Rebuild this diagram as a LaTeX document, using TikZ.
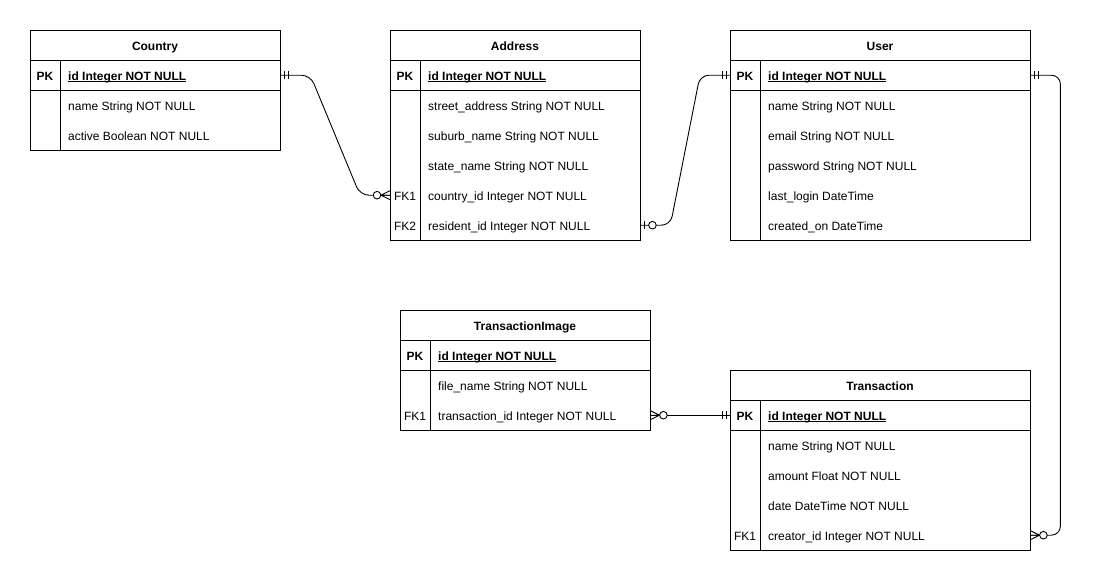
\documentclass[tikz,border=0pt]{standalone}
\usepackage{fontspec}
\setmainfont{Liberation Sans}
\newcommand\erul[1]{\setbox0\hbox{#1}\rlap{\rule[-1.7pt]{\wd0}{0.8pt}}\box0}
\tikzset{
  tblbox/.style={draw, line width=1pt, inner sep=0pt, anchor=north west},
  tblline/.style={line width=1pt},
  rowbox/.style={inner sep=0pt, anchor=north west, minimum height=30pt},
  txt/.style={inner sep=0pt, font=\fontsize{12}{14}\selectfont, text height=10pt, text depth=1.4pt, yshift=-0.8pt},
  title/.style={txt, font=\fontsize{12}{14}\selectfont\bfseries},
  keytxt/.style={txt, anchor=center},
  fieldtxt/.style={txt, anchor=west},
  conn/.style={line width=0.9pt, rounded corners=9pt},
  mandone/.pic={\draw[line width=0.9pt] (4,-4)--(4,4) (8,-4)--(8,4);},
  zeroone/.pic={\draw[line width=0.9pt] (4,-4)--(4,4); \draw[line width=0.9pt, fill=white] (12,0) circle (3.8);},
  zeromany/.pic={\draw[line width=0.9pt] (0,-4.5)--(9,0)--(0,4.5) (0,0)--(9,0); \draw[line width=0.9pt, fill=white] (13,0) circle (3.8);}
}
% #1 table, #2 index, #3 x, #4 y, #5 width, #6 key, #7 text
\newcommand\erow[7]{%
  \node[rowbox, minimum width=#5] (#1-#2) at (#3,#4) {};
  \node[keytxt] (#1-#2-k) at ([xshift=15pt]#1-#2.west) {#6};
  \node[fieldtxt] (#1-#2-f) at ([xshift=38pt]#1-#2.west) {#7};
}
\begin{document}
\begin{tikzpicture}[x=1pt, y=-1pt]
\useasboundingbox[fill=white] (0,0) rectangle (1100,581);

% Country
\node[tblbox, minimum width=250pt, minimum height=120pt] (country) at (30,30) {};
\node[title] (country-t) at (155,45) {Country};
\draw[tblline] (30,60) -- (280,60) (30,90) -- (280,90) (60,60) -- (60,150);
\erow{country}{1}{30}{60}{250pt}{\bfseries PK}{\bfseries\erul{id Integer NOT NULL}}
\erow{country}{2}{30}{90}{250pt}{}{name String NOT NULL}
\erow{country}{3}{30}{120}{250pt}{}{active Boolean NOT NULL}

% Address
\node[tblbox, minimum width=250pt, minimum height=210pt] (address) at (390,30) {};
\node[title] (address-t) at (515,45) {Address};
\draw[tblline] (390,60) -- (640,60) (390,90) -- (640,90) (420,60) -- (420,240);
\erow{address}{1}{390}{60}{250pt}{\bfseries PK}{\bfseries\erul{id Integer NOT NULL}}
\erow{address}{2}{390}{90}{250pt}{}{street\_address String NOT NULL}
\erow{address}{3}{390}{120}{250pt}{}{suburb\_name String NOT NULL}
\erow{address}{4}{390}{150}{250pt}{}{state\_name String NOT NULL}
\erow{address}{5}{390}{180}{250pt}{FK1}{country\_id Integer NOT NULL}
\erow{address}{6}{390}{210}{250pt}{FK2}{resident\_id Integer NOT NULL}

% User
\node[tblbox, minimum width=300pt, minimum height=210pt] (user) at (730,30) {};
\node[title] (user-t) at (880,45) {User};
\draw[tblline] (730,60) -- (1030,60) (730,90) -- (1030,90) (760,60) -- (760,240);
\erow{user}{1}{730}{60}{300pt}{\bfseries PK}{\bfseries\erul{id Integer NOT NULL}}
\erow{user}{2}{730}{90}{300pt}{}{name String NOT NULL}
\erow{user}{3}{730}{120}{300pt}{}{email String NOT NULL}
\erow{user}{4}{730}{150}{300pt}{}{password String NOT NULL}
\erow{user}{5}{730}{180}{300pt}{}{last\_login DateTime}
\erow{user}{6}{730}{210}{300pt}{}{created\_on DateTime}

% TransactionImage
\node[tblbox, minimum width=250pt, minimum height=120pt] (timage) at (400,310) {};
\node[title] (timage-t) at (525,325) {TransactionImage};
\draw[tblline] (400,340) -- (650,340) (400,370) -- (650,370) (430,340) -- (430,430);
\erow{timage}{1}{400}{340}{250pt}{\bfseries PK}{\bfseries\erul{id Integer NOT NULL}}
\erow{timage}{2}{400}{370}{250pt}{}{file\_name String NOT NULL}
\erow{timage}{3}{400}{400}{250pt}{FK1}{transaction\_id Integer NOT NULL}

% Transaction
\node[tblbox, minimum width=300pt, minimum height=180pt] (trans) at (730,370) {};
\node[title] (trans-t) at (880,385) {Transaction};
\draw[tblline] (730,400) -- (1030,400) (730,430) -- (1030,430) (760,400) -- (760,550);
\erow{trans}{1}{730}{400}{300pt}{\bfseries PK}{\bfseries\erul{id Integer NOT NULL}}
\erow{trans}{2}{730}{430}{300pt}{}{name String NOT NULL}
\erow{trans}{3}{730}{460}{300pt}{}{amount Float NOT NULL}
\erow{trans}{4}{730}{490}{300pt}{}{date DateTime NOT NULL}
\erow{trans}{5}{730}{520}{300pt}{FK1}{creator\_id Integer NOT NULL}

% Connectors
\draw[conn] (country-1.east) -- ++(30,0) -- ([xshift=-30pt]address-5.west) -- (address-5.west);
\draw[conn] (address-6.east) -- ++(30,0) -- ([xshift=-30pt]user-1.west) -- (user-1.west);
\draw[conn] (user-1.east) -- ++(30,0) |- (trans-5.east);
\draw[conn] (timage-3.east) -- (trans-1.west);

% Markers
\pic at (country-1.east) {mandone};
\pic[rotate=180] at (address-5.west) {zeromany};
\pic at (address-6.east) {zeroone};
\pic[rotate=180] at (user-1.west) {mandone};
\pic at (user-1.east) {mandone};
\pic at (trans-5.east) {zeromany};
\pic at (timage-3.east) {zeromany};
\pic[rotate=180] at (trans-1.west) {mandone};
\end{tikzpicture}
\end{document}
